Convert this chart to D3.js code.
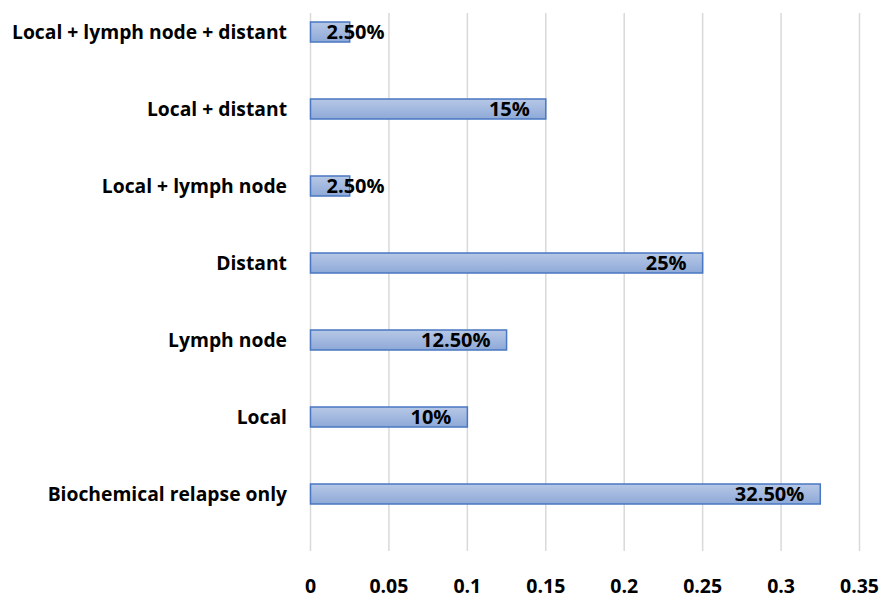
<!DOCTYPE html>
<html><head><meta charset="utf-8">
<script src="https://cdn.jsdelivr.net/npm/d3@7"></script>
<style>body{margin:0;background:#fff}svg{display:block}</style>
</head><body><svg id="c" width="882" height="598"></svg>
<script>
const categories = ["Local + lymph node + distant","Local + distant","Local + lymph node","Distant","Lymph node","Local","Biochemical relapse only"];
const values = [0.025,0.15,0.025,0.25,0.125,0.10,0.325];
const labels = ["2.50%","15%","2.50%","25%","12.50%","10%","32.50%"];
const ticks = [0,0.05,0.1,0.15,0.2,0.25,0.3,0.35];
const tickLabels = ["0","0.05","0.1","0.15","0.2","0.25","0.3","0.35"];

const svg = d3.select("#c");
const font = "'Open Sans', sans-serif";
const x = d3.scaleLinear().domain([0,0.35]).range([310.5,859.5]);
const y = d3.scaleBand().domain(categories).range([-6.5,532.5]).paddingInner(0.727).paddingOuter(0.3635);
const defs = svg.append("defs");
const g = defs.append("linearGradient").attr("id","bg").attr("x1",0).attr("y1",0).attr("x2",0).attr("y2",1);
g.append("stop").attr("offset","0%").attr("stop-color","#b7c8e6");
g.append("stop").attr("offset","100%").attr("stop-color","#8ea9d8");

// gridlines
svg.append("g").selectAll("line").data(ticks).join("line")
  .attr("x1",d=>x(d)).attr("x2",d=>x(d)).attr("y1",13).attr("y2",551)
  .attr("stroke","#d9d9d9").attr("stroke-width",1.5);

// tick labels
svg.append("g").selectAll("text").data(ticks).join("text")
  .attr("x",d=>x(d)).attr("y",593).attr("text-anchor","middle")
  .attr("font-family",font).attr("font-weight","bold").attr("font-size",19.5).attr("fill","#000")
  .text((d,i)=>tickLabels[i]);

// bars
const bh = 20;
svg.append("g").selectAll("rect").data(values).join("rect")
  .attr("x",x(0)).attr("y",(d,i)=>y(categories[i])+y.bandwidth()/2-bh/2)
  .attr("width",d=>x(d)-x(0)).attr("height",bh)
  .attr("fill","url(#bg)").attr("stroke","#4a77c2").attr("stroke-width",1.5);

// category labels
svg.append("g").selectAll("text").data(categories).join("text")
  .attr("x",287).attr("y",d=>y(d)+y.bandwidth()/2).attr("dy","0.35em").attr("text-anchor","end")
  .attr("font-family",font).attr("font-weight","bold").attr("font-size",19.3).attr("fill","#000")
  .text(d=>d);

// value labels
const vl = svg.append("g").selectAll("text").data(values).join("text")
  .attr("y",(d,i)=>y(categories[i])+y.bandwidth()/2).attr("dy","0.37em")
  .attr("font-family",font).attr("font-weight","bold").attr("font-size",20).attr("fill","#000")
  .text((d,i)=>labels[i]);
vl.each(function(d){
  const w = this.getComputedTextLength();
  let left = x(d)-16-w;
  if (left < x(0)+16) left = x(0)+16;
  d3.select(this).attr("x",left);
});
</script></body></html>
